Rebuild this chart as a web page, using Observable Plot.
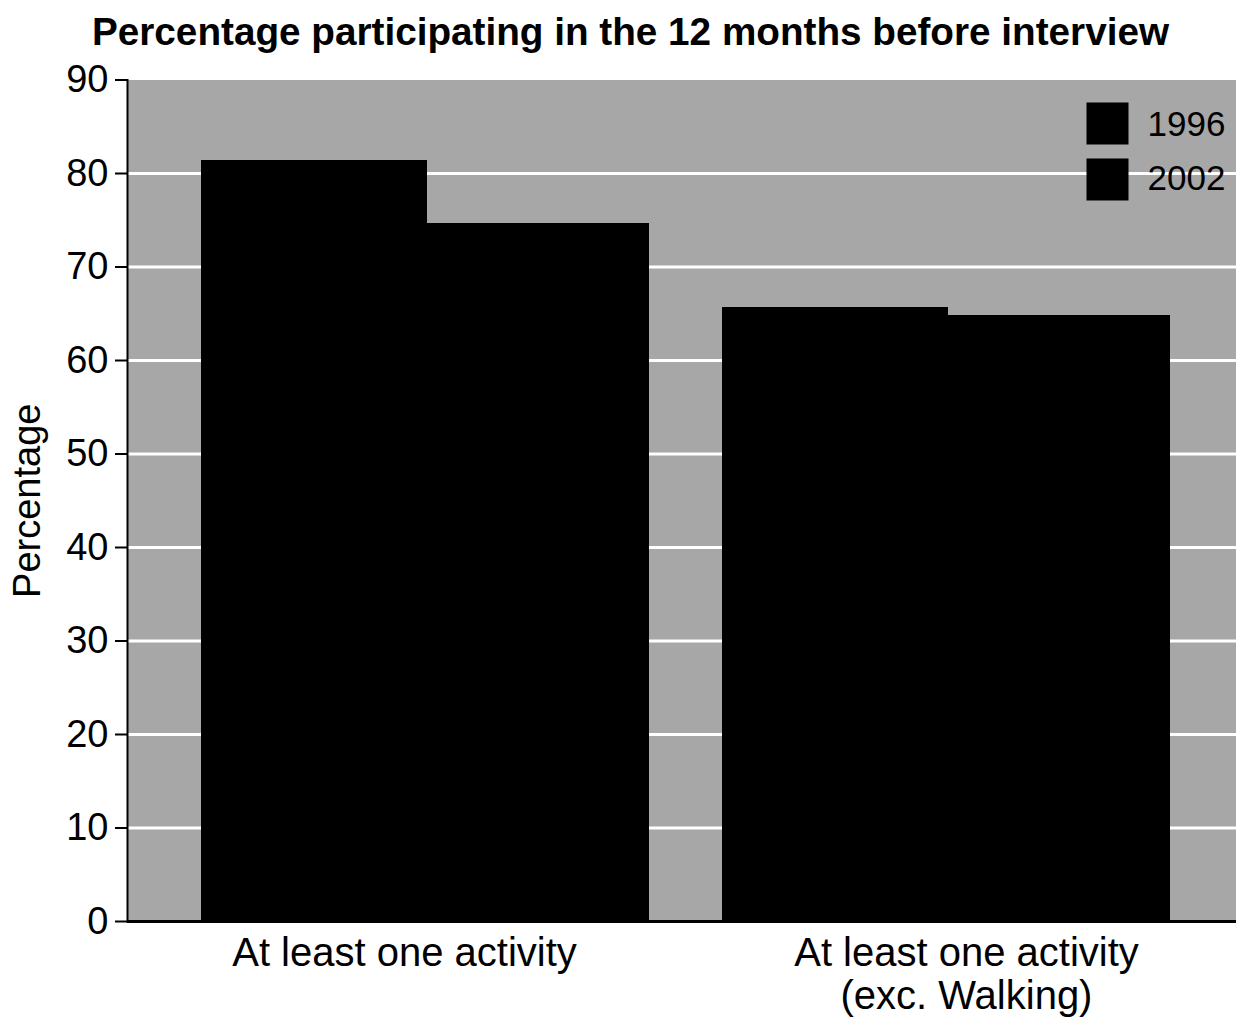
<!DOCTYPE html>
<html>
<head>
<meta charset="utf-8">
<script src="https://cdn.jsdelivr.net/npm/d3@7"></script>
<script src="https://cdn.jsdelivr.net/npm/@observablehq/plot@0.6"></script>
<style>
  html, body { margin: 0; padding: 0; background: #fff; overflow: hidden; }
  #title {
    height: 62px; box-sizing: border-box; padding-top: 13px; padding-left: 25px;
    font-family: "Liberation Sans", Arial, Helvetica, sans-serif;
    font-weight: bold; font-size: 38.7px; line-height: 38px; text-align: center; color: #000;
    width: 1236px; white-space: nowrap;
  }
  #chart svg { max-width: none !important; display: block; }
</style>
</head>
<body>
<div id="title">Percentage participating in the 12 months before interview</div>
<div id="chart"></div>
<script>
// ---- data ----
const categories = ["At least one activity", "At least one activity\n(exc. Walking)"];
const years = ["1996", "2002"];
const values1996 = [81.4, 65.7];
const values2002 = [74.6, 64.8];
const yTicks = [0, 10, 20, 30, 40, 50, 60, 70, 80, 90];
const gridTicks = [10, 20, 30, 40, 50, 60, 70, 80];
const yLabel = "Percentage";

const series = {
  [years[0]]: categories.map((c, i) => ({category: c, year: years[0], value: values1996[i]})),
  [years[1]]: categories.map((c, i) => ({category: c, year: years[1], value: values2002[i]}))
};

const font = "Liberation Sans, Arial, Helvetica, sans-serif";
const W = 1244, H = 961, mL = 127, mR = 0, mT = 17.5, mB = 102;

// band scale for the category groups; each year takes half a band
const xScale = Plot.scale({x: {type: "band", domain: categories, range: [mL, W - mR], padding: 0.14}});
const half = xScale.bandwidth / 2;

const chart = Plot.plot({
  width: W,
  height: H,
  marginLeft: mL,
  marginRight: mR,
  marginTop: mT,
  marginBottom: mB,
  style: {fontFamily: font, color: "#000", background: "transparent", overflow: "visible", maxWidth: "none"},
  x: {domain: categories, padding: 0.14, axis: null},
  y: {domain: [0, 90], axis: null},
  marks: [
    Plot.frame({fill: "#a7a7a7", stroke: null}),
    Plot.ruleY(gridTicks, {stroke: "#ffffff", strokeWidth: 3}),
    Plot.barY(series[years[0]], {x: "category", y: "value", fill: "#000", insetRight: half - 2, shapeRendering: "crispEdges"}),
    Plot.barY(series[years[1]], {x: "category", y: "value", fill: "#000", insetLeft: half, shapeRendering: "crispEdges"}),
    Plot.ruleY([0], {stroke: "#000", strokeWidth: 3}),
    Plot.frame({anchor: "left", stroke: "#000", strokeWidth: 2}),
    Plot.axisY({
      ticks: yTicks, tickSize: 12, tickPadding: 7, fontSize: 38, strokeWidth: 2,
      label: yLabel, labelAnchor: "center", labelOffset: 114, labelArrow: "none"
    }),
    Plot.axisX({ticks: [categories[0]], anchor: "bottom", tickSize: 0, tickPadding: 14, fontSize: 40, lineHeight: 1.08, label: null, dx: -21}),
    Plot.axisX({ticks: [categories[1]], anchor: "bottom", tickSize: 0, tickPadding: 14, fontSize: 40, lineHeight: 1.08, label: null, dx: 20}),
    ...years.map((yr, i) => Plot.dot([yr], {
      frameAnchor: "top-right", dx: -137, dy: 43.5 + i * 56,
      symbol: "square", r: 23.7, fill: "#000", stroke: null
    })),
    ...years.map((yr, i) => Plot.text([yr], {
      text: d => d, frameAnchor: "top-right", dx: -97, dy: 45 + i * 54,
      textAnchor: "start", lineAnchor: "middle", fontSize: 35, fill: "#000"
    }))
  ]
});
document.getElementById("chart").appendChild(chart);
</script>
</body>
</html>
